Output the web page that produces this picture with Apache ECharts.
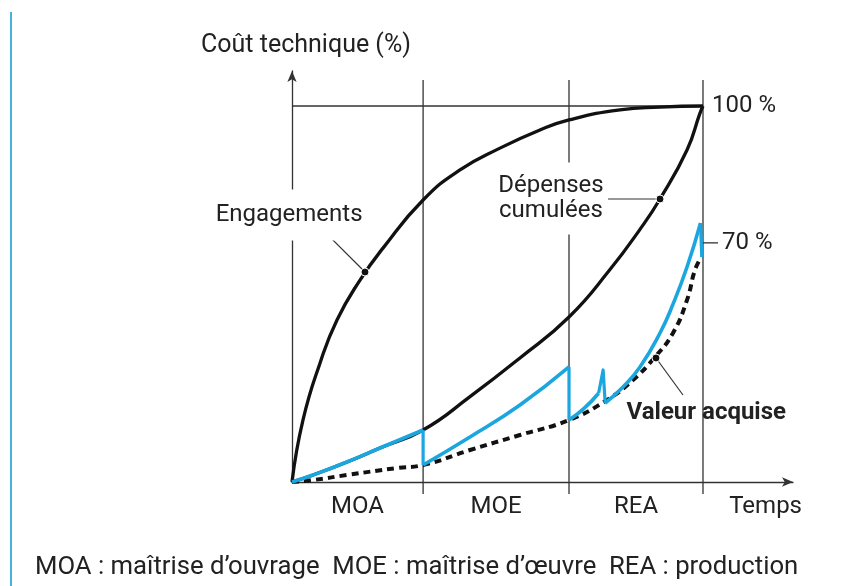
<!DOCTYPE html>
<html>
<head>
<meta charset="utf-8">
<script src="https://cdn.jsdelivr.net/npm/echarts@6/dist/echarts.min.js"></script>
<style>
  html, body { margin: 0; padding: 0; background: #fff; }
  #chart { width: 856px; height: 586px; }
</style>
</head>
<body>
<div id="chart"></div>
<script>
// phases du projet et leurs limites sur l'axe du temps
const phases = ['MOA', 'MOE', 'REA'];
const phaseLimits = [0, 31.9, 67.4, 100];

// courbes (temps, coût technique %)
const engagements = [[0, 0], [2.68, 16.5], [6.81, 31.6], [10.95, 43.1], [16.55, 53.7], [22.14, 62.2],
  [31.9, 75.0], [40.88, 83.0], [50.6, 88.8], [60.3, 93.6], [67.4, 96.3], [79.8, 99.0], [89.5, 99.7], [100, 100]];
const depensesCumulees = [[0, 0], [5.11, 1.86], [13.38, 5.32], [21.41, 9.04], [31.9, 13.83], [43.31, 22.7],
  [55.47, 33.0], [67.4, 43.88], [77.37, 56.5], [84.67, 67.2], [89.54, 75.27], [96.11, 88.3], [99.27, 98.1], [100, 100]];
const valeurAcquise = [[0, 0], [5.11, 0.53], [13.38, 1.86], [25.55, 3.72], [31.9, 4.52], [43.31, 8.51],
  [55.47, 12.5], [67.4, 16.49], [76.64, 21.81], [82.97, 27.13], [88.32, 33.24], [92.7, 39.63],
  [96.11, 48.4], [98.05, 56.38], [99.6, 59.8]];

// courbe bleue, par morceaux (les chutes sont droites)
const bleuMOA = [[0, 0], [5.11, 1.86], [13.38, 5.32], [21.41, 9.04], [31.9, 13.83]];
const bleuMOE = [[31.9, 4.52], [43.31, 11.97], [55.47, 20.48], [67.4, 30.59]];
const bleuREA1 = [[67.4, 16.49], [71.0, 19.5], [74.6, 23.6]];
const bleuREA2 = [[76.2, 21.0], [80.54, 25.27], [84.67, 30.59], [89.54, 39.63], [92.7, 47.3], [96.11, 57.18], [99.4, 68.9]];
const bleuChutes = [
  [[31.9, 13.83], [31.9, 4.52]],
  [[67.4, 30.59], [67.4, 16.49]],
  [[74.6, 23.6], [75.7, 29.8], [76.2, 21.0]],
  [[99.4, 68.9], [99.7, 59.8]]
];

// repères de l'axe vertical
const niveau100 = 100;
const niveau70 = 63.6; // position du repère "70 %" sur le schéma

// annotations : texte, position du texte, début du trait, point sur la courbe
const annotations = [
  { text: 'Engagements', at: [-0.7, 71.0], from: [7.54, 67.0], dot: [17.76, 55.85], bold: false, bg: true },
  { text: 'Dépenses\ncumulées', at: [63.0, 75.4], from: [76.9, 75.27], dot: [89.54, 75.27], bold: false, bg: true },
  { text: 'Valeur acquise', at: [100.8, 18.35], from: [95.13, 23.14], dot: [88.56, 32.98], bold: true, bg: false }
];

const FONT = 'Roboto, sans-serif';
const TXT = '#222';
const INK = '#111';
const BLEU = '#1ba6df';
const FS = 24;

const chart = echarts.init(document.getElementById('chart'));

const thin = (data, extra) => Object.assign({
  type: 'line', data: data, symbol: 'none', silent: true, clip: false, z: 1,
  lineStyle: { color: '#333', width: 1.3 }
}, extra || {});

const curve = (data, style, z) => ({
  type: 'line', data: data, smooth: 0.5, symbol: 'none', z: z, clip: false,
  lineStyle: style
});

const series = [];

// séparateurs de phases
phaseLimits.slice(1).forEach(x => {
  series.push(thin([[x, -3.2], [x, 106.9]]));
});

// ligne 100 %
series.push(thin([[0, niveau100], [100, niveau100]], {
  endLabel: { show: true, formatter: '100 %', distance: 9, color: TXT, fontSize: FS, fontFamily: FONT }
}));
// repère 70 %
series.push(thin([[100, niveau70], [103.65, niveau70]], {
  endLabel: { show: true, formatter: '70 %', distance: 4, color: TXT, fontSize: FS, fontFamily: FONT }
}));

// courbes principales
series.push(curve(engagements, { color: INK, width: 3.3 }, 3));
series.push(curve(depensesCumulees, { color: INK, width: 3.3 }, 3));
series.push(curve(valeurAcquise, { color: INK, width: 4, type: [7, 5], cap: 'butt' }, 3));

// courbe bleue
[bleuMOA, bleuMOE, bleuREA1, bleuREA2].forEach(seg => {
  series.push(curve(seg, { color: BLEU, width: 3.6 }, 4));
});
bleuChutes.forEach(seg => {
  series.push({ type: 'line', data: seg, symbol: 'none', z: 4, clip: false,
    lineStyle: { color: BLEU, width: 3.2, join: 'round' } });
});

// traits de rappel + points
annotations.forEach(a => {
  series.push({ type: 'line', data: [a.from, a.dot], symbol: 'none', z: 5, clip: false, silent: true,
    lineStyle: { color: '#333', width: 1.2 } });
});
series.push({ type: 'scatter', data: annotations.map(a => a.dot), symbol: 'circle', symbolSize: 8, z: 6,
  itemStyle: { color: INK, opacity: 1, borderColor: '#fff', borderWidth: 1 }, silent: true });

// textes des annotations
annotations.forEach(a => {
  series.push({
    type: 'scatter', data: [a.at], symbolSize: 1, z: 7, clip: false, silent: true,
    itemStyle: { color: 'rgba(0,0,0,0)', opacity: 1 },
    label: {
      show: true, position: 'inside', formatter: a.text, color: TXT, opacity: 1, fontSize: FS, lineHeight: 25,
      fontFamily: FONT, fontWeight: a.bold ? 'bold' : 'normal',
      backgroundColor: a.bg ? '#fff' : 'transparent',
      padding: a.bg ? (a.text.indexOf('\n') > 0 ? [12, 4, 10, 4] : [2, 4, 24, 4]) : 0
    }
  });
});

const phaseCenters = phases.map((p, i) => (phaseLimits[i] + phaseLimits[i + 1]) / 2);

const option = {
  animation: false,
  textStyle: { fontFamily: FONT },
  title: {
    text: 'MOA : maîtrise d’ouvrage  MOE : maîtrise d’œuvre  REA : production',
    left: 30, top: 550,
    textStyle: { fontFamily: FONT, fontSize: 25.7, fontWeight: 'normal', color: TXT }
  },
  graphic: [{
    type: 'line', shape: { x1: 11, y1: 12, x2: 11, y2: 586 },
    style: { stroke: '#45b4dc', lineWidth: 2 }, silent: true
  }],
  grid: { left: 292, right: 63, top: 71, bottom: 104 },
  xAxis: {
    type: 'value', min: 0, max: 121.9,
    name: 'Temps', nameLocation: 'end', nameGap: 9,
    nameTextStyle: { fontFamily: FONT, fontSize: FS, color: TXT, align: 'right', verticalAlign: 'top', padding: [13, 0, 0, 0] },
    axisLine: { show: true, symbol: ['none', 'arrow'], symbolSize: [7, 11], lineStyle: { color: '#333', width: 1.3 } },
    axisTick: { show: false },
    splitLine: { show: false },
    axisLabel: {
      customValues: phaseCenters, margin: 13, fontFamily: FONT, fontSize: FS, color: TXT,
      formatter: v => {
        let best = 0;
        phaseCenters.forEach((c, i) => { if (Math.abs(c - v) < Math.abs(phaseCenters[best] - v)) best = i; });
        return phases[best];
      }
    }
  },
  yAxis: {
    type: 'value', min: 0, max: 109.31,
    name: 'Coût technique (%)', nameLocation: 'end', nameGap: 13,
    nameTextStyle: { fontFamily: FONT, fontSize: 25, color: TXT, align: 'center', padding: [0, 0, 0, 28] },
    axisLine: { show: true, symbol: ['none', 'arrow'], symbolSize: [7, 11], lineStyle: { color: '#333', width: 1.3 } },
    axisTick: { show: false },
    axisLabel: { show: false },
    splitLine: { show: false }
  },
  series: series
};

chart.setOption(option);
</script>
</body>
</html>
